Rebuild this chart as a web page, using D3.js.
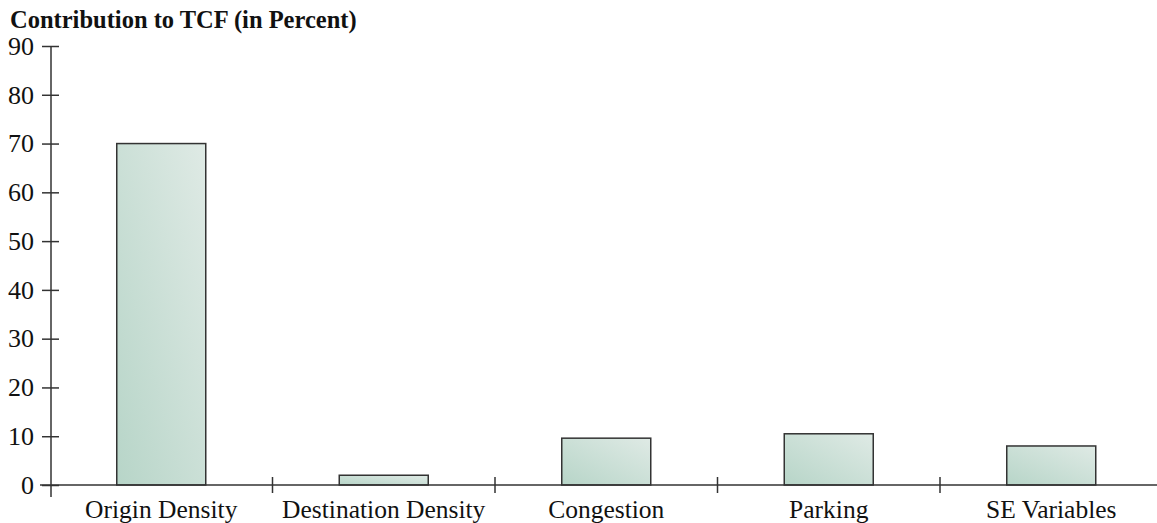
<!DOCTYPE html>
<html>
<head>
<meta charset="utf-8">
<script src="https://cdn.jsdelivr.net/npm/d3@7/dist/d3.min.js"></script>
<style>
  html, body { margin: 0; padding: 0; background: #fff; }
  svg { display: block; }
</style>
</head>
<body>
<svg id="chart" width="1157" height="523"></svg>
<script>
// Share of the total contribution to TCF by factor group
const categories = ["Origin Density", "Destination Density", "Congestion", "Parking", "SE Variables"];
const values = [70, 2, 9.6, 10.5, 8];
const yTicks = [0, 10, 20, 30, 40, 50, 60, 70, 80, 90];
const title = "Contribution to TCF (in Percent)";

const svg = d3.select("#chart");
const font = "'Liberation Serif', 'Times New Roman', serif";
const ink = "#333";

const x0 = 50, yAxisX = 51;
const x = d3.scaleBand().domain(categories).range([x0, x0 + 222.5 * 5]).padding(0);
const y = d3.scaleLinear().domain([0, 90]).range([485, 46]);

// bar fill: darker sea-green at bottom-left fading to pale at top-right
const defs = svg.append("defs");
const grad = defs.append("linearGradient")
  .attr("id", "barFill")
  .attr("x1", 0).attr("y1", 1).attr("x2", 1).attr("y2", 0);
grad.append("stop").attr("offset", "0%").attr("stop-color", "#b7d5c8");
grad.append("stop").attr("offset", "100%").attr("stop-color", "#dfeae5");

// title
svg.append("text")
  .attr("x", 10).attr("y", 28)
  .attr("font-family", font).attr("font-weight", "bold").attr("font-size", 24.5)
  .attr("fill", "#111")
  .text(title);

// bars
const bw = x.bandwidth() * 0.4;
svg.append("g").selectAll("rect")
  .data(categories.map((c, i) => ({ c, v: values[i] })))
  .join("rect")
  .attr("x", d => x(d.c) + (x.bandwidth() - bw) / 2)
  .attr("y", d => y(d.v))
  .attr("width", bw)
  .attr("height", d => y(0) - y(d.v))
  .attr("fill", "url(#barFill)")
  .attr("stroke", ink)
  .attr("stroke-width", 1.5);

// y axis: line crossing below zero, ticks on both sides
const yAxis = d3.axisLeft(y).tickValues(yTicks).tickSize(0).tickPadding(0);
const gy = svg.append("g").attr("transform", `translate(${yAxisX},0)`).call(yAxis);
gy.select(".domain").remove();
gy.append("line").attr("x1", 0).attr("x2", 0).attr("y1", y(90)).attr("y2", 497)
  .attr("stroke", ink).attr("stroke-width", 1.5);
gy.selectAll(".tick").append("line")
  .attr("x1", -9).attr("x2", 8).attr("stroke", ink).attr("stroke-width", 1.5);
gy.selectAll(".tick text")
  .attr("x", -17)
  .attr("font-family", font).attr("font-size", 26).attr("fill", "#111");

// x axis: baseline with separators between categories
const gx = svg.append("g").attr("transform", `translate(0,${y(0)})`);
gx.append("line").attr("x1", 40).attr("x2", 1157).attr("y1", 0).attr("y2", 0)
  .attr("stroke", ink).attr("stroke-width", 1.5);
gx.selectAll("line.sep")
  .data(categories.slice(1))
  .join("line").attr("class", "sep")
  .attr("x1", d => x(d)).attr("x2", d => x(d))
  .attr("y1", -8).attr("y2", 8)
  .attr("stroke", ink).attr("stroke-width", 1.5);
gx.selectAll("text")
  .data(categories)
  .join("text")
  .attr("x", d => x(d) + x.bandwidth() / 2)
  .attr("y", 33)
  .attr("text-anchor", "middle")
  .attr("font-family", font).attr("font-size", 25.5).attr("fill", "#111")
  .text(d => d);
</script>
</body>
</html>
